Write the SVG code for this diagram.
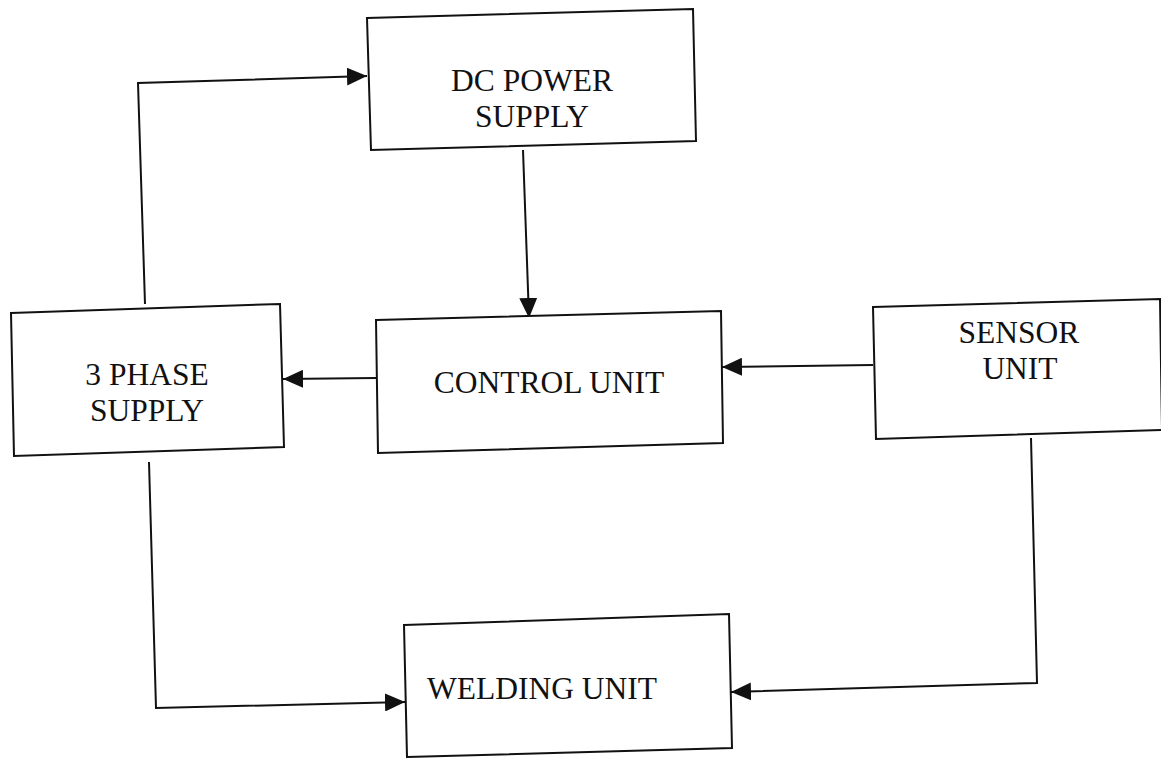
<svg xmlns="http://www.w3.org/2000/svg" width="1161" height="758" viewBox="0 0 1161 758">
<style>
.box{fill:#fff;stroke:#111;stroke-width:2}
.lbl{font-family:"Liberation Serif","Times New Roman",serif;font-size:31.5px;fill:#111;text-anchor:middle}
.wire{fill:none;stroke:#111;stroke-width:2}
.arr{marker-end:url(#ah)}
</style>
<defs>
<marker id="ah" markerUnits="userSpaceOnUse" markerWidth="20" markerHeight="18" refX="20" refY="9" orient="auto" viewBox="0 0 20 18">
<path d="M0,0 L20,9 L0,18 z" fill="#111"/>
</marker>
</defs>
<rect width="1161" height="758" fill="#fff"/>
<g id="connectors">
<path class="wire arr" d="M145,304 L138,83 L367,76"/>
<path class="wire arr" d="M523,150 L529,318"/>
<path class="wire arr" d="M376,378 L283,379"/>
<path class="wire arr" d="M873,365 L722,367"/>
<path class="wire arr" d="M149,462 L156,708 L405,702"/>
<path class="wire arr" d="M1031,438 L1037,683 L731,692"/>
</g>
<g id="dc-power-supply">
<polygon class="box" points="367,18 693,9 696,141 371,150"/>
<text class="lbl" x="532" y="91">DC POWER</text>
<text class="lbl" x="532" y="127">SUPPLY</text>
</g>
<g id="three-phase-supply">
<polygon class="box" points="11,313 280,304 284,447 14,456"/>
<text class="lbl" x="147" y="385">3 PHASE</text>
<text class="lbl" x="147" y="421">SUPPLY</text>
</g>
<g id="control-unit">
<polygon class="box" points="376,320 721,311 723,443 378,453"/>
<text class="lbl" x="549" y="393">CONTROL UNIT</text>
</g>
<g id="sensor-unit">
<polygon class="box" points="873,307 1160,299 1162,430 876,439"/>
<text class="lbl" x="1019" y="343">SENSOR</text>
<text class="lbl" x="1020" y="379">UNIT</text>
</g>
<g id="welding-unit">
<polygon class="box" points="404,625 729,614 732,748 407,757"/>
<text class="lbl" x="542" y="699">WELDING UNIT</text>
</g>
</svg>
